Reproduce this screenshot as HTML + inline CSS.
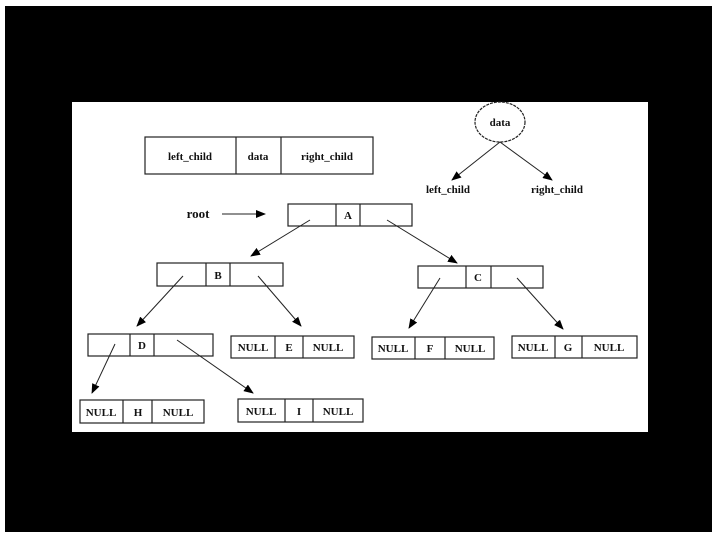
<!DOCTYPE html>
<html><head><style>
html,body{margin:0;padding:0;background:#fff;}
svg{display:block;}
text{font-family:"Liberation Serif",serif;font-weight:bold;font-size:11px;fill:#111;}
</style></head><body>
<svg width="720" height="540" viewBox="0 0 720 540" xmlns="http://www.w3.org/2000/svg">
<defs><marker id="ah" markerWidth="10" markerHeight="8" refX="9" refY="4" orient="auto" markerUnits="userSpaceOnUse"><path d="M0,0 L10,4 L0,8 z" fill="#000"/></marker></defs>
<rect x="0" y="0" width="720" height="540" fill="#fff"/>
<rect x="5" y="6" width="707" height="526" fill="#000"/>
<rect x="72" y="102" width="576" height="330" fill="#fff"/>
<g fill="none" stroke="#222" stroke-width="1.2">
<rect x="145" y="137" width="228" height="37"/><line x1="236" y1="137" x2="236" y2="174"/><line x1="281" y1="137" x2="281" y2="174"/>
<ellipse cx="500" cy="122" rx="25" ry="20" stroke-dasharray="3,1"/>
<rect x="288" y="204" width="124" height="22"/><line x1="336" y1="204" x2="336" y2="226"/><line x1="360" y1="204" x2="360" y2="226"/>
<rect x="157" y="263" width="126" height="23"/><line x1="206" y1="263" x2="206" y2="286"/><line x1="230" y1="263" x2="230" y2="286"/>
<rect x="418" y="266" width="125" height="22"/><line x1="466" y1="266" x2="466" y2="288"/><line x1="491" y1="266" x2="491" y2="288"/>
<rect x="88" y="334" width="125" height="22"/><line x1="130" y1="334" x2="130" y2="356"/><line x1="154" y1="334" x2="154" y2="356"/>
<rect x="231" y="336" width="123" height="22"/><line x1="275" y1="336" x2="275" y2="358"/><line x1="303" y1="336" x2="303" y2="358"/>
<rect x="372" y="337" width="122" height="22"/><line x1="415" y1="337" x2="415" y2="359"/><line x1="445" y1="337" x2="445" y2="359"/>
<rect x="512" y="336" width="125" height="22"/><line x1="555" y1="336" x2="555" y2="358"/><line x1="582" y1="336" x2="582" y2="358"/>
<rect x="80" y="400" width="124" height="23"/><line x1="123" y1="400" x2="123" y2="423"/><line x1="152" y1="400" x2="152" y2="423"/>
<rect x="238" y="399" width="125" height="23"/><line x1="285" y1="399" x2="285" y2="422"/><line x1="313" y1="399" x2="313" y2="422"/>
</g>
<g stroke="#222" stroke-width="1" marker-end="url(#ah)">
<line x1="500" y1="142" x2="452" y2="180"/><line x1="500" y1="142" x2="552" y2="180"/>
<line x1="222" y1="214" x2="265" y2="214"/>
<line x1="310" y1="220" x2="251" y2="256"/><line x1="387" y1="220" x2="457" y2="263"/>
<line x1="183" y1="276" x2="137" y2="326"/><line x1="258" y1="276" x2="301" y2="326"/>
<line x1="440" y1="278" x2="409" y2="328"/><line x1="517" y1="278" x2="563" y2="329"/>
<line x1="115" y1="344" x2="92" y2="393"/><line x1="177" y1="340" x2="253" y2="393"/>
</g>
<g text-anchor="middle">
<text x="190" y="160">left_child</text><text x="258" y="160">data</text><text x="327" y="160">right_child</text>
<text x="500" y="126">data</text>
<text x="448" y="193">left_child</text><text x="557" y="193">right_child</text>
<text x="198" y="218" style="font-size:13px">root</text>
<text x="348" y="219">A</text><text x="218" y="279">B</text><text x="478" y="281">C</text><text x="142" y="349">D</text>
<text x="253" y="351">NULL</text><text x="289" y="351">E</text><text x="328" y="351">NULL</text>
<text x="393" y="352">NULL</text><text x="430" y="352">F</text><text x="470" y="352">NULL</text>
<text x="533" y="351">NULL</text><text x="568" y="351">G</text><text x="609" y="351">NULL</text>
<text x="101" y="416">NULL</text><text x="138" y="416">H</text><text x="178" y="416">NULL</text>
<text x="261" y="415">NULL</text><text x="299" y="415">I</text><text x="338" y="415">NULL</text>
</g>
</svg>
</body></html>
